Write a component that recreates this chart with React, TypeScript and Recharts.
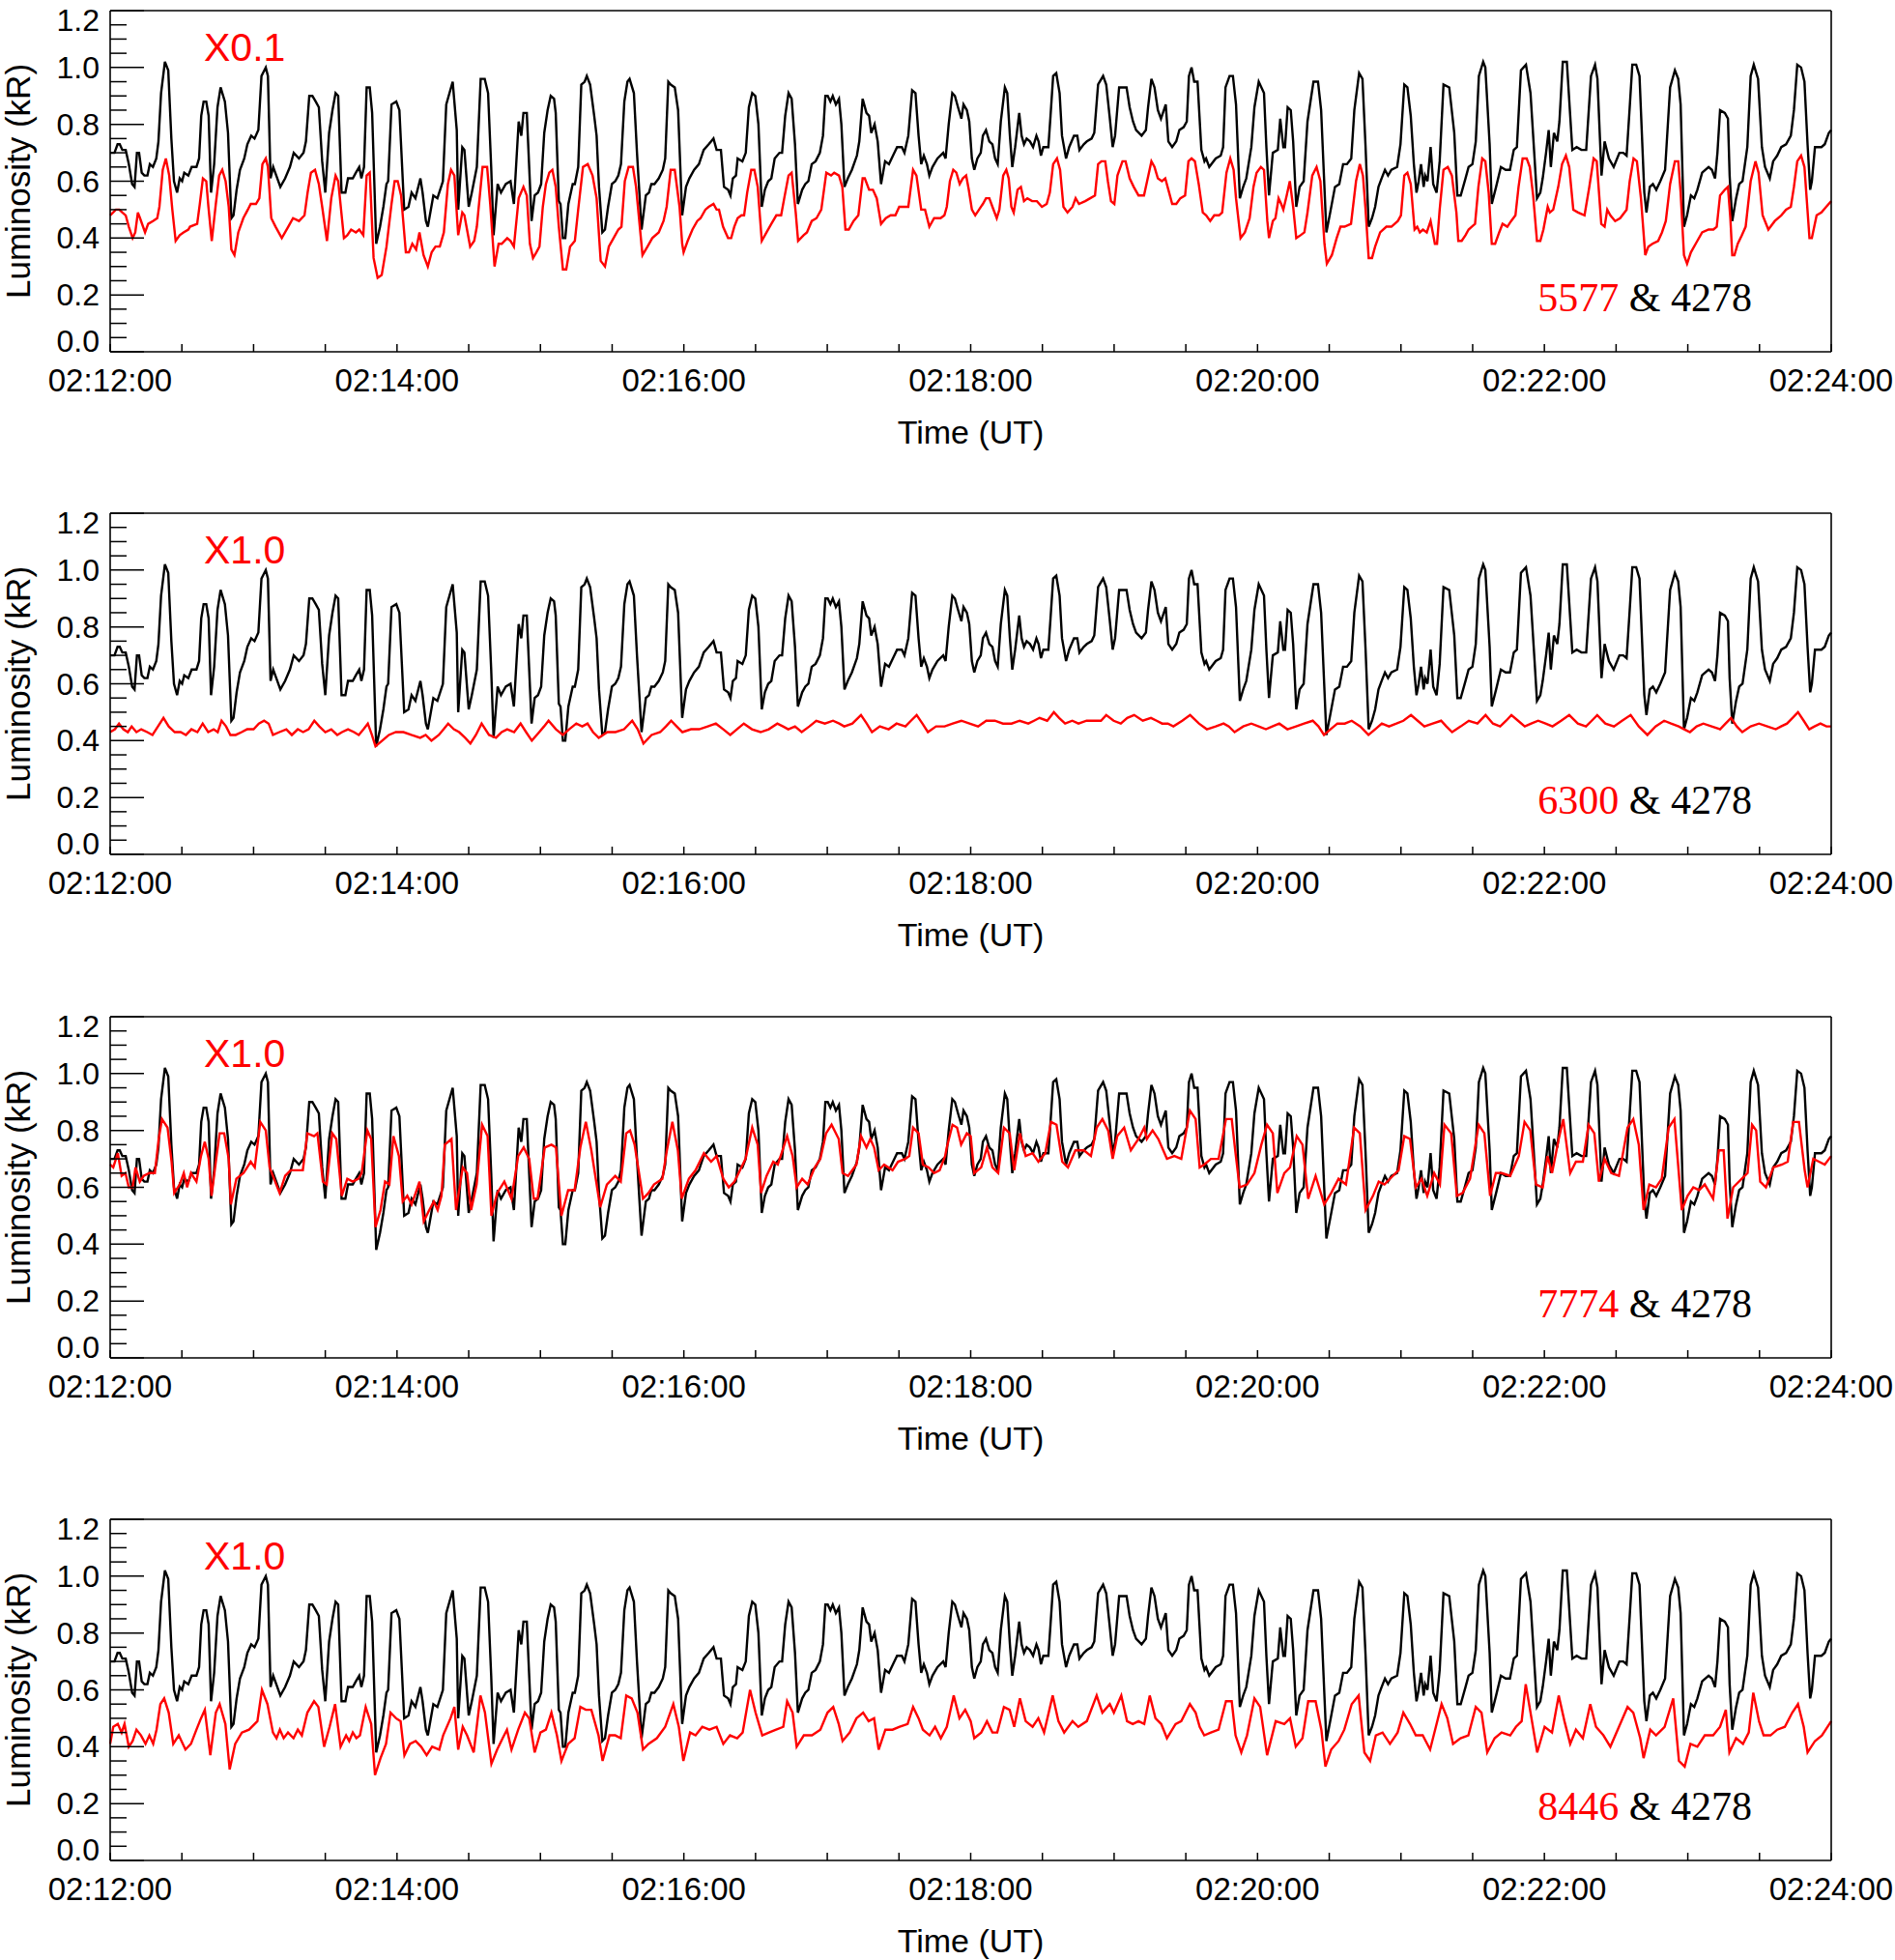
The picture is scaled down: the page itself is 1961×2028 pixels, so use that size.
import React from "react";
import { LineChart, Line, XAxis, YAxis } from "recharts";

// time in seconds after 02:12:00, luminosity in kR
const black4278: [number, number][] = [
  [0,0.70],[1.8,0.70],[3.1,0.73],[4,0.73],[5.1,0.71],[6.5,0.71],[7.8,0.66],[9.2,0.59],[10.2,0.58],[11.2,0.70],[12.1,0.70],[13.2,0.63],[14.3,0.62],[15.6,0.62],[16.6,0.66],[17.9,0.65],[19.3,0.68],[20.2,0.74],[21.3,0.91],[22.9,1.02],[24.3,0.99],[25.6,0.75],[26.7,0.60],[28,0.56],[29.1,0.61],[30.1,0.60],[31,0.63],[32.7,0.62],[34.1,0.65],[36.1,0.65],[37.2,0.68],[38.1,0.83],[39.1,0.88],[40.2,0.88],[41.2,0.83],[42.2,0.56],[43.5,0.66],[44.9,0.86],[46.2,0.93],[48,0.88],[49.3,0.77],[50.7,0.47],[51.6,0.48],[52.9,0.57],[54.3,0.64],[56.1,0.68],[57.4,0.73],[59,0.76],[60.4,0.75],[62,0.78],[63.3,0.97],[65.1,1.00],[66,0.97],[67.1,0.61],[68.2,0.65],[69.5,0.62],[71.2,0.58],[73.2,0.61],[75.2,0.65],[76.8,0.70],[79,0.68],[80.9,0.70],[81.9,0.74],[83.3,0.90],[84.6,0.90],[86,0.88],[87.3,0.86],[88.7,0.67],[90,0.56],[91.6,0.77],[93,0.85],[94.3,0.91],[95.4,0.90],[96.8,0.56],[98.4,0.56],[99.5,0.61],[101.5,0.61],[102.8,0.63],[104.2,0.65],[105.1,0.61],[106.2,0.65],[107.3,0.93],[108.6,0.93],[109.6,0.84],[111.3,0.38],[112.9,0.44],[114.3,0.51],[115.6,0.59],[116.3,0.60],[117.7,0.87],[119.7,0.88],[121,0.85],[123,0.50],[124.8,0.51],[126.1,0.56],[127.7,0.54],[129.8,0.61],[130.7,0.56],[132.1,0.46],[132.9,0.44],[135.2,0.55],[136.9,0.54],[139.2,0.60],[140.6,0.87],[143.3,0.95],[145,0.78],[145.6,0.50],[147.3,0.72],[148.2,0.71],[150,0.51],[151.3,0.56],[153.4,0.65],[155,0.96],[156.7,0.96],[158.1,0.91],[159.4,0.65],[160.4,0.41],[162.1,0.59],[163.5,0.56],[165.5,0.59],[167.5,0.60],[168.9,0.52],[170.9,0.81],[172,0.76],[172.9,0.84],[174.3,0.84],
  [176.3,0.46],[177.6,0.55],[179,0.56],[180.3,0.59],[181.6,0.77],[183,0.85],[184.3,0.90],[185.7,0.89],[186.4,0.84],[187.7,0.53],[188.4,0.52],[189.4,0.40],[190.4,0.40],[191.7,0.52],[193.5,0.59],[194.4,0.59],[195.8,0.65],[197.1,0.94],[198.5,0.95],[199.4,0.97],[200.8,0.94],[202.5,0.83],[203.5,0.76],[204.5,0.58],[205.9,0.42],[207,0.43],[208.3,0.51],[209.9,0.59],[211.3,0.60],[212.6,0.62],[213.7,0.66],[215.1,0.88],[216.4,0.95],[217.3,0.96],[219.1,0.91],[220.4,0.70],[222.3,0.43],[224.1,0.55],[225.4,0.56],[226.4,0.59],[227.7,0.59],[229.5,0.61],[231.2,0.64],[232.2,0.68],[233.5,0.95],[234.5,0.94],[236.2,0.93],[237.6,0.85],[239.3,0.48],[240.9,0.58],[242.3,0.61],[244.3,0.64],[246.3,0.66],[248.3,0.71],[250.4,0.73],[252.4,0.75],[253.7,0.71],[255.5,0.71],[256.8,0.58],[258.5,0.57],[259.5,0.55],[260.5,0.61],[261.8,0.62],[262.5,0.68],[264.5,0.67],[265.9,0.70],[267.2,0.86],[268.6,0.91],[269.9,0.90],[271.2,0.80],[272.6,0.51],[273.9,0.57],[275.3,0.60],[276.6,0.61],[278,0.68],[280,0.70],[281.1,0.70],[282.4,0.83],[283.8,0.91],[285.1,0.89],[286.5,0.73],[287.7,0.52],[289.5,0.57],[290.8,0.59],[292.1,0.60],[293.5,0.66],[295.1,0.67],[296.9,0.70],[298.2,0.76],[299.2,0.90],[300.2,0.90],[301.3,0.88],[302.3,0.90],[303.6,0.87],[304.9,0.89],[305.9,0.80],[307.2,0.58],[308.6,0.61],[310.3,0.64],[312.4,0.69],[313.4,0.74],[314.8,0.89],[316.4,0.84],[317.5,0.83],[318.4,0.77],[319.8,0.80],[321.1,0.74],[322.5,0.59],[324.2,0.67],[325.8,0.66],[327.5,0.69],[329.2,0.72],[331.2,0.72],[332.3,0.70],[333.9,0.76],[335.5,0.92],[336.9,0.91],[338.2,0.76],[339.3,0.66],[340.4,0.69],[341.7,0.66],[342.7,0.62],[344,0.65],[346.1,0.68],[348.5,0.70],[349.5,0.68],
  [350.8,0.80],[352.3,0.91],[353.4,0.90],[354.7,0.86],[356.1,0.82],[357,0.87],[358.4,0.85],[359.4,0.81],[360.5,0.68],[361.5,0.64],[362.8,0.68],[364.2,0.70],[365.1,0.76],[366.4,0.78],[367.8,0.74],[369.1,0.73],[370.2,0.68],[371.3,0.66],[372.6,0.81],[374.3,0.93],[375.3,0.91],[376.4,0.76],[377.4,0.65],[378.6,0.72],[380.3,0.84],[381.3,0.76],[382.3,0.73],[383.4,0.75],[384.8,0.74],[386.1,0.72],[387.5,0.76],[388.4,0.74],[389.4,0.69],[390.4,0.72],[392.5,0.72],[393.4,0.83],[394.5,0.97],[395.8,0.98],[397.2,0.91],[398.2,0.76],[399.9,0.68],[401.2,0.72],[403.2,0.76],[404.6,0.76],[405.5,0.71],[407.3,0.73],[408.6,0.74],[410.6,0.75],[411.7,0.77],[413.3,0.94],[415.4,0.97],[416.7,0.94],[418.1,0.83],[419.4,0.72],[420.4,0.76],[422.1,0.93],[423.5,0.93],[425.2,0.93],[426.5,0.86],[427.9,0.81],[429.2,0.78],[431.5,0.76],[433.3,0.78],[434.2,0.86],[435.6,0.96],[436.9,0.93],[438.3,0.85],[439.6,0.82],[441.6,0.87],[442.7,0.74],[444.3,0.72],[446,0.74],[447.3,0.78],[449.1,0.79],[450.4,0.81],[451.3,0.97],[452.4,1.00],[453.5,0.95],[454.9,0.95],[456.5,0.71],[457.8,0.67],[458.5,0.68],[459.8,0.65],[462.5,0.68],[464.6,0.69],[465.6,0.72],[466.6,0.93],[468.3,0.97],[469.7,0.97],[471,0.87],[472.6,0.54],[474,0.58],[475.3,0.61],[477.4,0.72],[478.7,0.86],[480.5,0.95],[482.7,0.91],[483.7,0.72],[484.8,0.55],[486.4,0.70],[488.5,0.71],[489.5,0.82],[490.8,0.72],[491.5,0.72],[492.6,0.86],[493.9,0.85],[494.9,0.74],[496.2,0.51],[497.6,0.58],[499.3,0.60],[500.9,0.81],[503.4,0.95],[505.3,0.95],[506.6,0.85],[508.8,0.42],[510.4,0.49],[512.4,0.58],[514.2,0.59],[515.8,0.66],[517.4,0.66],[519.2,0.68],[520.5,0.85],[522.5,0.98],[523.9,0.96],[525.2,0.72],[526.5,0.44],
  [527.9,0.47],[529.2,0.51],[530.6,0.58],[531.9,0.61],[533.3,0.64],[534.6,0.62],[536,0.64],[538.4,0.65],[539.8,0.73],[541.4,0.94],[542.7,0.93],[544.1,0.83],[545.4,0.66],[546.5,0.56],[547.4,0.60],[548.4,0.66],[549.5,0.58],[550.1,0.62],[551.1,0.60],[552.4,0.72],[553.5,0.59],[554.9,0.56],[556.2,0.67],[557.8,0.94],[560.2,0.93],[562.3,0.77],[563.6,0.55],[565,0.55],[567,0.61],[568.3,0.65],[569.9,0.66],[571.3,0.74],[572.6,0.97],[574.4,1.02],[575.3,1.00],[577.1,0.73],[578,0.52],[579.8,0.58],[581.8,0.65],[583.8,0.64],[585.6,0.64],[587.2,0.71],[588.5,0.72],[590.2,0.99],[592.3,1.01],[594.2,0.91],[595.9,0.68],[596.9,0.54],[598.3,0.56],[599.3,0.61],[600.7,0.70],[601.8,0.78],[602.7,0.65],[604,0.77],[605.4,0.74],[606.3,0.81],[607.7,1.02],[609.4,1.02],[611.7,0.71],[613.5,0.72],[615.5,0.71],[617.5,0.71],[619.5,0.97],[621.2,1.01],[622.2,0.96],[623.9,0.62],[625.2,0.74],[627,0.68],[629,0.65],[631.4,0.70],[633,0.70],[634.4,0.69],[635.7,0.86],[636.8,1.01],[638.4,1.01],[639.8,0.97],[641.8,0.56],[642.7,0.49],[644.1,0.58],[645.4,0.59],[646.8,0.57],[648.5,0.60],[650.5,0.64],[652.6,0.93],[654.6,0.99],[656,0.96],[657,0.87],[658.4,0.44],[659.7,0.48],[661.3,0.55],[662.7,0.54],[664,0.57],[666,0.63],[668.7,0.65],[670.1,0.64],[671.4,0.61],[672.4,0.70],[673.5,0.85],[675.5,0.84],[676.8,0.82],[677.5,0.62],[678.6,0.46],[680.2,0.54],[681.5,0.59],[682.9,0.60],[684.9,0.72],[686.3,0.97],[687.6,1.01],[689.4,0.96],[691,0.72],[692.3,0.65],[694.3,0.61],[695.7,0.67],[697.4,0.69],[699.1,0.72],[701.1,0.73],[703.1,0.76],[704.4,0.85],[705.8,1.01],[707.4,1.00],[708.8,0.95],[710.1,0.73],[711.2,0.57],[711.9,0.60],[713.2,0.72],[714.6,0.72],[715.9,0.72],[717.3,0.73],[719,0.77],[720,0.78],
];

// 5577 line, already multiplied by 0.1
const red5577: [number, number][] = [
  [0,0.48],[2.4,0.50],[3.8,0.50],[5.1,0.49],[6.5,0.48],[7.8,0.44],[9.4,0.40],[10.5,0.42],[11.6,0.49],[12.5,0.47],[14.6,0.42],[15.9,0.45],[17.9,0.46],[19.7,0.47],[20.6,0.51],[22,0.64],[23.3,0.68],[24.7,0.62],[26,0.50],[27.4,0.39],[29.1,0.41],[30.7,0.42],[32.7,0.43],[33.4,0.44],[36.4,0.45],[37.5,0.52],[38.8,0.61],[40.2,0.60],[41.1,0.51],[42.5,0.39],[44.2,0.52],[45.6,0.62],[46.9,0.64],[48.3,0.60],[49.6,0.51],[50.7,0.36],[52,0.34],[53.6,0.42],[55.7,0.47],[57.6,0.50],[58.8,0.52],[61,0.52],[62.4,0.54],[63.7,0.66],[65.1,0.68],[66,0.65],[67.4,0.47],[69.2,0.44],[71.8,0.40],[74.5,0.44],[76.5,0.47],[79,0.46],[81.3,0.48],[82.6,0.56],[84,0.63],[85.7,0.64],[87.3,0.59],[88.7,0.51],[90.7,0.39],[92.5,0.54],[94.3,0.62],[95.4,0.60],[97.8,0.40],[99.2,0.41],[100.8,0.43],[102.8,0.42],[104.2,0.43],[105.9,0.41],[107.3,0.62],[108.6,0.63],[110.2,0.33],[111.9,0.26],[113.6,0.27],[115.6,0.37],[117.7,0.52],[119,0.60],[120.3,0.60],[121.7,0.55],[123.7,0.35],[125,0.35],[126.4,0.38],[128,0.36],[129.4,0.42],[131.1,0.34],[132.9,0.30],[134.5,0.35],[136.1,0.37],[137.9,0.37],[139.6,0.42],[141.3,0.59],[142.6,0.64],[144,0.62],[145.6,0.41],[147.3,0.49],[148.2,0.48],[150.6,0.37],[152.3,0.39],[153.4,0.44],[155.8,0.65],[157.7,0.65],[159,0.52],[160.8,0.30],[162.5,0.38],[163.8,0.38],[166.1,0.40],[167.5,0.39],[168.9,0.37],[170.9,0.54],[172.9,0.58],[174.3,0.55],
  [175.6,0.38],[176.9,0.33],[178.3,0.35],[179.6,0.37],[181,0.51],[182.3,0.59],[183.7,0.63],[185,0.64],[186.4,0.58],[187.7,0.44],[189.4,0.29],[190.8,0.29],[192.4,0.37],[194.4,0.39],[195.8,0.50],[197.8,0.65],[199.8,0.66],[201.8,0.62],[203.5,0.54],[205.2,0.32],[207,0.30],[208.6,0.37],[210.6,0.40],[212.6,0.43],[213.9,0.44],[215.3,0.60],[216.9,0.65],[218.7,0.65],[220,0.58],[222.7,0.34],[224.8,0.37],[226.8,0.40],[229.5,0.42],[231.5,0.46],[232.8,0.51],[234.5,0.64],[236.2,0.64],[238.2,0.51],[239.3,0.38],[239.9,0.35],[241.6,0.39],[243.6,0.43],[245.6,0.46],[247,0.47],[249,0.50],[250.4,0.51],[252.4,0.52],[253.7,0.50],[254.7,0.50],[256.4,0.44],[258.5,0.40],[259.8,0.40],[261.1,0.44],[262.5,0.47],[264.1,0.48],[265.2,0.48],[266.5,0.56],[268.2,0.64],[269.5,0.64],[270.9,0.58],[272.6,0.39],[274.6,0.42],[276.6,0.45],[278.7,0.48],[280.7,0.48],[282,0.54],[283.8,0.62],[285.1,0.63],[286.8,0.49],[287.8,0.39],[290.1,0.41],[291.5,0.42],[293.5,0.46],[295.5,0.47],[297.5,0.50],[299.6,0.63],[301.6,0.62],[302.9,0.63],[304.9,0.62],[306.3,0.58],[307.6,0.43],[309,0.43],[311,0.46],[313,0.48],[314.8,0.61],[315.7,0.61],[317.5,0.57],[319.1,0.57],[320.7,0.54],[322.5,0.45],[324.5,0.47],[326.5,0.48],[328.5,0.48],[330.1,0.51],[331.9,0.51],[333.9,0.51],[335.9,0.64],[337.3,0.62],[339.3,0.50],[340.9,0.50],[342.7,0.44],[344.7,0.47],[347.4,0.47],[349,0.48],
  [350,0.51],[351.3,0.60],[352.7,0.64],[354,0.63],[355.4,0.59],[356.7,0.61],[358.1,0.62],[359.2,0.57],[360.5,0.50],[361.9,0.48],[363.5,0.50],[365.1,0.52],[366.4,0.54],[367.8,0.54],[369.1,0.51],[370.9,0.47],[372,0.50],[373.6,0.62],[374.9,0.64],[375.9,0.61],[377,0.51],[378,0.49],[379.6,0.57],[381,0.58],[382.3,0.53],[383.7,0.54],[385.7,0.53],[387.7,0.53],[389.8,0.51],[391.8,0.52],[393.1,0.56],[394.5,0.66],[396.1,0.68],[397.4,0.64],[398.8,0.51],[400.5,0.49],[402.6,0.51],[403.9,0.54],[405.3,0.52],[407.9,0.53],[410,0.54],[412,0.55],[413.3,0.66],[414.7,0.67],[416.3,0.67],[417.4,0.60],[418.7,0.53],[420.1,0.52],[421.4,0.62],[423.5,0.67],[424.8,0.67],[426.5,0.61],[428.2,0.58],[430.2,0.55],[432.5,0.55],[433.8,0.60],[435.6,0.67],[436.9,0.65],[438.3,0.61],[440,0.60],[441.4,0.61],[442.7,0.57],[444.3,0.52],[446,0.52],[447.7,0.54],[449.7,0.55],[451.1,0.67],[452.4,0.68],[453.8,0.67],[455.4,0.59],[457.1,0.49],[458.5,0.48],[460.2,0.46],[461.9,0.48],[463.9,0.48],[465.2,0.49],[467,0.63],[468.6,0.68],[470,0.64],[471,0.54],[472.9,0.40],[474.7,0.42],[476.7,0.47],[478.3,0.58],[479.6,0.63],[481.4,0.65],[482.7,0.64],[484.1,0.46],[484.8,0.40],[486.4,0.46],[487.5,0.47],[488.8,0.54],[489.9,0.52],[490.8,0.50],[492.2,0.55],[493.5,0.60],[494.9,0.51],[496.2,0.40],[498,0.41],[499.6,0.42],[500.9,0.49],[502.9,0.62],[504.7,0.65],[506.3,0.60],[508,0.38],[509,0.31],[511.1,0.34],[513.1,0.40],[514.7,0.44],[516.4,0.44],[519.1,0.45],[521.2,0.60],[522.8,0.66],[524.1,0.62],[525.2,0.50],[526.5,0.33],
  [527.9,0.33],[529.2,0.37],[531.3,0.42],[533.9,0.44],[536,0.44],[538.7,0.46],[540,0.48],[541.4,0.62],[542.7,0.63],[544.1,0.59],[545.7,0.43],[546.8,0.44],[547.9,0.42],[549.2,0.43],[550.8,0.42],[552.4,0.46],[554.2,0.38],[555.1,0.38],[556.2,0.50],[557.8,0.64],[559.6,0.65],[561.3,0.62],[563.2,0.49],[564,0.39],[565.4,0.39],[567,0.41],[568.3,0.43],[571,0.45],[572.4,0.58],[574,0.68],[575.3,0.67],[576.7,0.56],[578,0.38],[579.4,0.38],[581.1,0.42],[582.5,0.45],[584.5,0.44],[586.1,0.46],[587.9,0.48],[589.2,0.58],[590.9,0.68],[592.6,0.68],[593.9,0.65],[595.3,0.55],[596.9,0.39],[598.3,0.39],[599.6,0.43],[601.4,0.51],[602.3,0.49],[603.7,0.50],[605.8,0.58],[607.4,0.66],[609,0.69],[610.4,0.65],[612.1,0.50],[614.1,0.49],[616.8,0.48],[618.8,0.58],[620.6,0.68],[621.9,0.67],[623.8,0.45],[625.2,0.44],[626.3,0.50],[627.6,0.48],[629.6,0.46],[631.7,0.47],[634.4,0.50],[635.7,0.60],[637.3,0.68],[638.7,0.67],[640.4,0.54],[642.2,0.34],[643.5,0.37],[645.2,0.38],[647.6,0.39],[649.2,0.42],[650.8,0.46],[652.6,0.59],[654.6,0.67],[656,0.67],[657,0.56],[658.4,0.34],[659.7,0.31],[661.3,0.35],[663.3,0.38],[666,0.42],[668.7,0.43],[670.7,0.43],[672.1,0.44],[673.5,0.55],[675.5,0.57],[676.8,0.58],[677.8,0.47],[678.6,0.34],[679.5,0.34],[680.9,0.38],[682.6,0.41],[684.2,0.44],[686.3,0.60],[688.3,0.67],[689.6,0.63],[691.3,0.48],[693.7,0.43],[696.4,0.46],[699.1,0.48],[701.1,0.50],[703.1,0.51],[704.4,0.58],[705.8,0.67],[707.4,0.69],[708.8,0.65],[710.9,0.40],[711.9,0.40],[713.9,0.48],[715.9,0.49],[717.9,0.51],[720,0.53],
];

const red6300: [number, number][] = [
  [0,0.43],[2,0.44],[3.7,0.46],[5.5,0.44],[7.4,0.43],[9,0.45],[11,0.43],[13,0.44],[15.5,0.43],[17.7,0.42],[20,0.45],[22.3,0.48],[24.5,0.45],[27,0.43],[29.5,0.43],[31.7,0.42],[34,0.44],[36.5,0.43],[38.7,0.46],[41,0.43],[43.3,0.44],[45,0.43],[46.6,0.47],[48.5,0.45],[50.3,0.42],[52.5,0.42],[55,0.43],[57.3,0.44],[60,0.44],[62.2,0.46],[64.4,0.47],[66.3,0.46],[68.1,0.42],[70.8,0.43],[73.7,0.44],[76,0.42],[78.5,0.44],[80.7,0.43],[83,0.44],[85.4,0.47],[87.5,0.45],[90,0.43],[92.5,0.44],[95,0.42],[97,0.43],[99.5,0.44],[102,0.43],[104,0.42],[106,0.44],[107.8,0.46],[109.5,0.42],[111,0.38],[113.8,0.40],[116.6,0.42],[119.5,0.43],[122.7,0.43],[126,0.42],[129.7,0.41],[132,0.42],[134.4,0.40],[137.5,0.42],[139.5,0.44],[141.4,0.46],[143.8,0.44],[146,0.43],[148.5,0.41],[150.7,0.39],[153,0.42],[155.4,0.46],[158.5,0.42],[161.4,0.41],[163.8,0.43],[166.1,0.44],[169,0.43],[171.7,0.46],[174,0.43],[176.4,0.40],[179.5,0.43],[181.5,0.45],[183.4,0.47],[186.5,0.44],[189.4,0.42],[192,0.44],[195,0.46],[197.5,0.45],[199.7,0.46],[202,0.43],[204.4,0.41],[208,0.43],[211.4,0.43],[215,0.44],[218.4,0.47],[220.7,0.44],[223.1,0.39],[226.5,0.42],[230.1,0.43],[232.5,0.45],[234.7,0.47],[237,0.45],[239.4,0.43],[243,0.44],[246.4,0.44],[250,0.45],[253.4,0.46],[256.5,0.44],[259.4,0.42],[262.2,0.44],[265.1,0.46],[268.5,0.44],[272.1,0.43],[275.5,0.44],[279.1,0.46],[281.5,0.45],[283.7,0.44],[286.5,0.45],[289.3,0.43],[292.5,0.45],[295.4,0.47],[299,0.46],[302.4,0.47],[305,0.46],[307.1,0.45],[310.5,0.46],[314.1,0.49],[316.5,0.46],[318.7,0.43],[322,0.45],[325.7,0.44],[329,0.46],[332.7,0.45],[335,0.47],[337.4,0.49],[339.8,0.46],[342.1,0.43],[345.5,0.45],[349.1,0.45],[352.5,0.46],[356.1,0.47],[359.5,0.46],[363.1,0.45],[366.5,0.47],[370.1,0.47],[373.5,0.46],[377.1,0.46],[380.5,0.47],[384.1,0.46],[386.5,0.47],[388.8,0.48],[392,0.47],[394.8,0.50],[397,0.48],[399.5,0.46],[402.5,0.47],[405.1,0.46],[408.5,0.47],[412.1,0.47],[414.5,0.47],[416.7,0.49],[419.8,0.47],[422.8,0.46],[425.5,0.48],[428.4,0.49],[432,0.47],[435.4,0.48],[437.8,0.47],[440.1,0.46],[442.5,0.46],[444.8,0.45],[448.5,0.47],[451.8,0.49],[455.5,0.46],[458.8,0.44],[462.5,0.45],[465.8,0.46],[468,0.45],[470.4,0.43],[474,0.45],[477.4,0.46],[480.5,0.45],[483.5,0.44],[486.2,0.45],[489.1,0.46],[492.5,0.44],[496.1,0.45],[499.5,0.46],[503.1,0.47],[505.5,0.45],[507.8,0.42],[510.5,0.44],[513.4,0.46],[516.5,0.46],[519.4,0.47],[523,0.45],[526.4,0.42],[529.2,0.44],[532,0.46],[535,0.45],[538.1,0.46],[541,0.47],[544.2,0.49],[547,0.47],[549.8,0.45],[553.3,0.46],[556.8,0.47],[559,0.45],[561.4,0.43],[565,0.45],[568.4,0.47],[572,0.46],[575.4,0.49],[578.5,0.46],[581.5,0.45],[584,0.47],[586.2,0.49],[589,0.47],[591.8,0.45],[594.5,0.46],[597.4,0.47],[600.5,0.46],[603.4,0.45],[607,0.47],[610.4,0.49],[614,0.46],[617.4,0.45],[619.8,0.47],[622.1,0.49],[625.5,0.46],[629.1,0.45],[632.5,0.47],[636.1,0.49],[639.5,0.45],[643.1,0.42],[646.5,0.45],[650.1,0.47],[653,0.46],[656.2,0.45],[658.5,0.44],[660.9,0.43],[663.7,0.45],[666.5,0.46],[670,0.45],[673.5,0.44],[675.8,0.46],[678.1,0.48],[680.5,0.45],[682.8,0.43],[686.3,0.45],[689.8,0.46],[693.3,0.45],[696.8,0.44],[699,0.45],[701.5,0.46],[703.8,0.48],[706.1,0.50],[708.5,0.47],[710.8,0.44],[713,0.45],[715.5,0.46],[718,0.45],[720,0.45],
];

const red7774: [number, number][] = [
  [0,0.68],[1.3,0.67],[3.2,0.72],[4.8,0.64],[6.4,0.65],[7.8,0.60],[9.4,0.60],[10.6,0.67],[12.4,0.62],[14,0.64],[16.4,0.65],[18.7,0.65],[20.3,0.77],[21.7,0.84],[24,0.81],[25.7,0.69],[26.8,0.58],[29.1,0.61],[30.8,0.65],[32.2,0.60],[33.8,0.65],[36.1,0.62],[38,0.71],[39.6,0.76],[41.2,0.70],[42.4,0.57],[44.2,0.69],[45.8,0.79],[47.7,0.79],[49.6,0.70],[50.5,0.54],[52.8,0.63],[55.8,0.65],[58.8,0.69],[60.5,0.67],[62.8,0.83],[65.1,0.80],[66.7,0.67],[68.1,0.64],[70.9,0.58],[73.2,0.64],[75.5,0.66],[79,0.66],[80.6,0.66],[82.5,0.79],[85.3,0.78],[86.7,0.79],[89,0.62],[90.6,0.61],[92.9,0.79],[94.6,0.77],[96.9,0.57],[99.2,0.63],[101.5,0.62],[103.9,0.63],[105.2,0.65],[107.6,0.80],[109.2,0.77],[111,0.46],[113.1,0.52],[115,0.62],[116.8,0.61],[118.5,0.78],[120.8,0.71],[122.4,0.55],[124.3,0.57],[126.1,0.54],[127.8,0.58],[129.4,0.62],[131.2,0.48],[133.5,0.52],[135.4,0.55],[137,0.52],[138.6,0.57],[140,0.75],[142.8,0.77],[144.7,0.52],[147.5,0.67],[149.3,0.65],[151,0.52],[153.3,0.61],[155.6,0.82],[157.9,0.78],[159.5,0.50],[161.9,0.58],[164.9,0.62],[167.9,0.56],[170.7,0.71],[173,0.74],[175.3,0.70],[177.2,0.56],[178.8,0.56],[181.8,0.74],[184.6,0.75],[186.5,0.74],[188.8,0.50],[191.6,0.59],[194.3,0.59],[196.7,0.74],[199,0.83],[201.3,0.73],[205,0.53],[207.8,0.61],[211.3,0.64],[213.6,0.62],[215.9,0.79],[217.5,0.80],[219.4,0.75],[222.9,0.56],[225.2,0.58],[227.5,0.61],[231,0.63],[232.9,0.73],[235.2,0.83],[237.5,0.73],[239.1,0.56],[242.1,0.63],[244.9,0.66],[248.4,0.72],[251.4,0.69],[253.7,0.71],[256.5,0.63],[258.8,0.60],[261.2,0.62],[263.5,0.66],[265.8,0.70],[268.6,0.81],[270.9,0.75],[272.3,0.58],[274.6,0.64],[277.4,0.69],[279.3,0.68],[280.9,0.72],[283.2,0.78],[285.5,0.71],[287.2,0.60],[289.5,0.63],[291.8,0.61],[294.8,0.67],[297.1,0.70],[299.5,0.79],[301.8,0.82],[304.8,0.77],[306.4,0.65],[308.7,0.64],[312.2,0.68],[314.1,0.78],[316.4,0.74],[318,0.77],[319.6,0.74],[321.5,0.66],[323.8,0.68],[327.3,0.66],[329.6,0.69],[332.6,0.70],[334.3,0.71],[335.9,0.81],[338.2,0.79],[340,0.68],[342.4,0.67],[344.7,0.65],[347,0.66],[349.3,0.71],
  [350,0.74],[352.4,0.82],[354.3,0.81],[356,0.75],[358.4,0.79],[360,0.78],[361.5,0.65],[364.4,0.67],[366.8,0.74],[369.1,0.67],[371.5,0.65],[373.9,0.81],[376.3,0.79],[378.2,0.66],[380.6,0.79],[383,0.71],[385.9,0.72],[388.3,0.69],[391.2,0.72],[393.6,0.83],[395.9,0.82],[398.3,0.69],[400.7,0.67],[403.8,0.73],[407.4,0.73],[410.3,0.71],[412.7,0.81],[415.1,0.84],[417.5,0.80],[419.4,0.70],[421.3,0.78],[424.2,0.81],[427,0.73],[430.2,0.77],[432.6,0.81],[433.7,0.77],[436.1,0.80],[438.5,0.77],[442.1,0.70],[445.2,0.71],[448.1,0.70],[451.7,0.87],[454.1,0.84],[455.8,0.67],[457.7,0.68],[460.5,0.70],[463.7,0.70],[466.8,0.84],[469.2,0.84],[470.8,0.72],[472.5,0.60],[475.6,0.61],[478.7,0.65],[481.6,0.75],[484,0.82],[486.4,0.79],[488.3,0.58],[491.2,0.65],[493.6,0.67],[496.4,0.78],[498.8,0.75],[501.2,0.56],[504.3,0.64],[507.9,0.54],[510.8,0.58],[513.9,0.63],[517,0.61],[520.4,0.81],[522.8,0.79],[525.2,0.52],[528.3,0.57],[530.7,0.62],[533.1,0.61],[536.6,0.64],[539,0.66],[541.4,0.78],[543.8,0.77],[546.2,0.60],[548.6,0.63],[551,0.57],[553.9,0.65],[556.3,0.61],[558.2,0.82],[561,0.79],[563.4,0.57],[565.8,0.58],[568.9,0.63],[572.5,0.82],[574.9,0.79],[577.3,0.57],[579.7,0.65],[582.1,0.65],[585.7,0.64],[589.3,0.71],[591.7,0.83],[594.1,0.80],[596.5,0.61],[599.3,0.60],[601.3,0.71],[603.2,0.65],[606,0.77],[607.9,0.84],[610.8,0.65],[613.2,0.69],[616.1,0.69],[618.5,0.82],[620.9,0.79],[622.8,0.62],[625.2,0.70],[628,0.65],[631.2,0.64],[634.8,0.81],[637.2,0.84],[639.5,0.75],[641.5,0.52],[643.9,0.61],[646.7,0.60],[649.1,0.63],[652,0.81],[654.4,0.84],[657.5,0.52],[659.9,0.57],[662.3,0.60],[664.7,0.59],[667.1,0.61],[670.6,0.56],[673,0.73],[675,0.73],[676.6,0.49],[679,0.60],[682.6,0.63],[685,0.65],[686.9,0.82],[688.6,0.80],[690.3,0.62],[692.7,0.60],[695.8,0.67],[699.4,0.68],[701.8,0.69],[704.1,0.83],[706.5,0.83],[708.9,0.66],[710.1,0.60],[712.5,0.70],[714.9,0.69],[717.3,0.68],[720,0.71],
];

const red8446: [number, number][] = [
  [0,0.41],[1.3,0.47],[3.2,0.48],[4.8,0.45],[6,0.48],[7.8,0.40],[9.4,0.42],[11,0.46],[12.9,0.44],[14.8,0.41],[16.4,0.44],[18,0.41],[19.4,0.46],[21,0.55],[22.6,0.57],[24.5,0.52],[26.4,0.41],[28.7,0.44],[31.5,0.39],[33.8,0.41],[36.1,0.46],[38,0.50],[39.6,0.53],[41.9,0.37],[44.2,0.52],[45.8,0.55],[48.2,0.48],[50,0.32],[52.3,0.41],[55.1,0.45],[58.1,0.46],[61.6,0.49],[63.5,0.60],[65.8,0.55],[68.1,0.45],[69.6,0.43],[71,0.46],[72.6,0.43],[74.4,0.45],[76.7,0.43],[78.5,0.46],[80.2,0.44],[82.5,0.52],[85.3,0.56],[87.1,0.54],[89.5,0.40],[91.8,0.47],[94.1,0.55],[96.4,0.40],[98.7,0.44],[100,0.42],[101.5,0.45],[103,0.43],[104.5,0.44],[106.9,0.54],[109.2,0.48],[110.8,0.30],[113.1,0.36],[115.4,0.41],[117.3,0.52],[119.6,0.50],[121.5,0.49],[123.1,0.37],[125.4,0.41],[127.8,0.42],[130.1,0.40],[132.4,0.37],[134.7,0.40],[137.7,0.39],[139.3,0.44],[142.4,0.50],[144,0.54],[145.6,0.39],[147.5,0.47],[149.3,0.44],[152.1,0.38],[154.9,0.58],[156.8,0.52],[159.5,0.34],[161.9,0.39],[164.2,0.43],[166,0.46],[167.9,0.39],[170.7,0.46],[173.5,0.52],[175.3,0.50],[177.6,0.38],[180,0.45],[182.3,0.46],[184.6,0.52],[186.9,0.44],[188.8,0.35],[191.6,0.41],[194.3,0.43],[196.7,0.54],[199,0.53],[201.3,0.53],[204.3,0.44],[206,0.35],[208.9,0.44],[211.3,0.44],[213.6,0.43],[215.9,0.58],[218.2,0.57],[220.6,0.52],[222.9,0.39],[225.2,0.41],[228.7,0.43],[232.2,0.47],[235.6,0.55],[237.9,0.47],[239.8,0.35],[242.6,0.45],[244.9,0.44],[247.7,0.47],[250.7,0.46],[253.7,0.47],[256.5,0.41],[259.3,0.44],[262.3,0.43],[264.6,0.45],[267.7,0.60],[270,0.52],[272.8,0.44],[275.6,0.45],[278.6,0.46],[281.6,0.47],[283.2,0.56],[285.5,0.52],[287.2,0.40],[290.2,0.44],[293.6,0.44],[297.1,0.46],[300.1,0.52],[302.5,0.54],[304.8,0.48],[306.4,0.42],[309.4,0.45],[312.2,0.50],[315,0.52],[317.3,0.49],[319.6,0.50],[321.5,0.39],[324.3,0.46],[327.3,0.46],[330.3,0.47],[333.6,0.48],[335.9,0.54],[338.2,0.50],[340,0.46],[342.8,0.44],[345.1,0.47],[347.5,0.43],
  [350,0.47],[352.9,0.58],[355.3,0.50],[357.7,0.53],[360,0.49],[361.5,0.43],[364.4,0.45],[366.8,0.49],[369.1,0.45],[371.1,0.45],[373.9,0.54],[376.3,0.53],[378.2,0.47],[380.6,0.57],[383,0.49],[385.9,0.47],[388.3,0.50],[390.7,0.45],[394.3,0.58],[396.7,0.49],[399.1,0.45],[402.6,0.49],[405,0.47],[408.6,0.49],[412.7,0.58],[415.1,0.52],[418.2,0.55],[419.9,0.52],[423,0.58],[425.4,0.49],[427.8,0.48],[430.2,0.49],[432.6,0.48],[434.9,0.58],[437.3,0.50],[439.7,0.48],[442.1,0.43],[445.7,0.48],[448.1,0.49],[451.7,0.55],[454.1,0.52],[455.8,0.47],[457.7,0.44],[460.5,0.45],[463.7,0.46],[466.8,0.56],[469.2,0.56],[470.8,0.44],[473.2,0.38],[475.6,0.44],[478.7,0.57],[481.1,0.54],[484,0.37],[487.6,0.49],[491.2,0.48],[493.6,0.50],[496,0.40],[498.8,0.43],[501.2,0.56],[504.3,0.56],[506.7,0.46],[508.4,0.33],[510.8,0.39],[513.9,0.42],[516.3,0.46],[519.4,0.55],[522.3,0.58],[524.7,0.38],[527.1,0.35],[529.5,0.44],[532.3,0.45],[535.4,0.41],[538.6,0.45],[541,0.52],[543.8,0.48],[546.2,0.44],[549.1,0.44],[552.2,0.39],[554.6,0.47],[557,0.55],[559.4,0.50],[561.8,0.41],[564.9,0.43],[568.2,0.44],[571.3,0.54],[573.7,0.52],[576.1,0.38],[579.2,0.43],[582.1,0.45],[585.7,0.44],[588.1,0.47],[590.5,0.49],[592.2,0.62],[594.6,0.50],[597,0.38],[600.1,0.47],[603.2,0.45],[606,0.58],[608.4,0.49],[610.8,0.41],[613.2,0.46],[616.1,0.43],[619.2,0.55],[621.6,0.47],[624.7,0.44],[627.6,0.40],[631.2,0.47],[634.8,0.54],[637.2,0.52],[640.1,0.43],[641.5,0.36],[644.3,0.46],[646.7,0.44],[650.3,0.47],[653.9,0.57],[656.3,0.35],[658.7,0.33],[661.1,0.41],[664,0.40],[667.1,0.44],[670.6,0.44],[673.5,0.47],[675.9,0.53],[677.4,0.38],[680.2,0.43],[683.1,0.41],[685.5,0.45],[687.4,0.59],[689.8,0.49],[691.7,0.44],[694.6,0.44],[697.4,0.46],[700.6,0.47],[703.7,0.52],[706.1,0.55],[708.5,0.47],[710.1,0.38],[713.2,0.42],[716.1,0.44],[720,0.49],
];

const xTicks = [0, 30, 60, 90, 120, 150, 180, 210, 240, 270, 300, 330, 360, 390, 420, 450, 480, 510, 540, 570, 600, 630, 660, 690, 720];
const xLabels = ["02:12:00", "02:14:00", "02:16:00", "02:18:00", "02:20:00", "02:22:00", "02:24:00"];
const yTicks = [0, 0.05, 0.1, 0.15, 0.2, 0.25, 0.3, 0.35, 0.4, 0.45, 0.5, 0.55, 0.6, 0.65, 0.7, 0.75, 0.8, 0.85, 0.9, 0.95, 1.0, 1.05, 1.1, 1.15, 1.2];
const yLabels = ["0.0", "0.2", "0.4", "0.6", "0.8", "1.0", "1.2"];

const bands = ["5577", "6300", "7774", "8446"];
const scales = ["X0.1", "X1.0", "X1.0", "X1.0"];
const redSeries = [red5577, red6300, red7774, red8446];

const W = 1961;
const CHART_H = 520;
const STEP = 520.33;
// plot box: x 114..1895, y 11..364 inside each panel (axes take 1px each)
const M = { top: 10, right: 65, bottom: 155, left: 113 };
const PLOT_TOP = 11;
const PLOT_LEFT = 114;
const PLOT_W = 1781;
const PLOT_H = 353;
const SANS = "'Liberation Sans', Arial, Helvetica, sans-serif";
const SERIF = "'Liberation Serif', 'Times New Roman', serif";
const RED = "#ff0000";

const toRows = (pts: [number, number][]) => pts.map(([t, v]) => ({ t, v }));
const isMajorY = (v: number) => Math.round(v * 100) % 20 === 0;

function BottomTick(props: any) {
  const { x, y, payload } = props;
  const v = payload.value;
  const label = v % 120 === 0 ? xLabels[v / 120] : null;
  return (
    <g>
      <line x1={x} x2={x} y1={y} y2={y - 8} stroke="#000" strokeWidth={1.5} />
      {label && (
        <text x={x} y={y + 41} textAnchor="middle" fontSize={33} fontFamily={SANS} fill="#000">
          {label}
        </text>
      )}
    </g>
  );
}

function TopTick(props: any) {
  const { x, y } = props;
  return <line x1={x} x2={x} y1={y} y2={y + 8} stroke="#000" strokeWidth={1.5} />;
}

function LeftTick(props: any) {
  const { x, y, payload } = props;
  const v = payload.value;
  const major = isMajorY(v);
  let dy = 11;
  if (v === 0) dy = 0;
  if (v === 1.2) dy = 21;
  return (
    <g>
      <line x1={x} x2={x + (major ? 35 : 17)} y1={y} y2={y} stroke="#000" strokeWidth={1.5} />
      {major && (
        <text x={x - 11} y={y + dy} textAnchor="end" fontSize={32} fontFamily={SANS} fill="#000">
          {yLabels[Math.round(v * 5)]}
        </text>
      )}
    </g>
  );
}

function RightTick(props: any) {
  const { x, y, payload } = props;
  const major = isMajorY(payload.value);
  return <line x1={x} x2={x - (major ? 35 : 17)} y1={y} y2={y} stroke="#000" strokeWidth={1.5} />;
}

function Panel({ index }: { index: number }) {
  const top = Math.round(index * STEP);
  const axisLine = { stroke: "#000", strokeWidth: 1.6 };
  return (
    <div style={{ position: "absolute", left: 0, top, width: W, height: CHART_H }}>
      <LineChart width={W} height={CHART_H} margin={M}>
        <XAxis dataKey="t" type="number" domain={[0, 720]} ticks={xTicks} interval={0} height={1}
          tickSize={0} tickMargin={0} tickLine={false} axisLine={axisLine} tick={(p: any) => <BottomTick {...p} />} />
        <XAxis xAxisId="top" orientation="top" dataKey="t" type="number" domain={[0, 720]} ticks={xTicks} interval={0} height={1}
          tickSize={0} tickMargin={0} tickLine={false} axisLine={axisLine} tick={(p: any) => <TopTick {...p} />} />
        <YAxis type="number" domain={[0, 1.2]} ticks={yTicks} interval={0} width={1}
          tickSize={0} tickMargin={0} tickLine={false} axisLine={axisLine} tick={(p: any) => <LeftTick {...p} />} />
        <YAxis yAxisId="right" orientation="right" type="number" domain={[0, 1.2]} ticks={yTicks} interval={0} width={1}
          tickSize={0} tickMargin={0} tickLine={false} axisLine={axisLine} tick={(p: any) => <RightTick {...p} />} />
        <Line data={toRows(black4278)} dataKey="v" type="linear" stroke="#000" strokeWidth={2.4}
          dot={false} activeDot={false} isAnimationActive={false} />
        <Line data={toRows(redSeries[index])} dataKey="v" type="linear" stroke={RED} strokeWidth={2.4}
          dot={false} activeDot={false} isAnimationActive={false} />
      </LineChart>
      <svg width={W} height={CHART_H} style={{ position: "absolute", left: 0, top: 0, pointerEvents: "none" }}>
        <text x={211} y={PLOT_TOP + 52} fontSize={41} fontFamily={SANS} fill={RED}>{scales[index]}</text>
        <text x={1813} y={PLOT_TOP + 311} textAnchor="end" fontSize={42} fontFamily={SERIF}>
          <tspan fill={RED}>{bands[index]}</tspan>
          <tspan fill="#000">{" & 4278"}</tspan>
        </text>
        <text x={PLOT_LEFT + PLOT_W / 2} y={PLOT_TOP + PLOT_H + 95} textAnchor="middle" fontSize={34} fontFamily={SANS} fill="#000">
          Time (UT)
        </text>
        <text x={0} y={0} textAnchor="middle" fontSize={35} fontFamily={SANS} fill="#000"
          transform={`translate(31, ${PLOT_TOP + PLOT_H / 2}) rotate(-90)`}>
          Luminosity (kR)
        </text>
      </svg>
    </div>
  );
}

export default function App() {
  return (
    <div style={{ position: "absolute", left: 0, top: 0, width: W, height: 2028, overflow: "hidden", background: "#fff" }}>
      {[0, 1, 2, 3].map((i) => (
        <Panel key={i} index={i} />
      ))}
    </div>
  );
}
